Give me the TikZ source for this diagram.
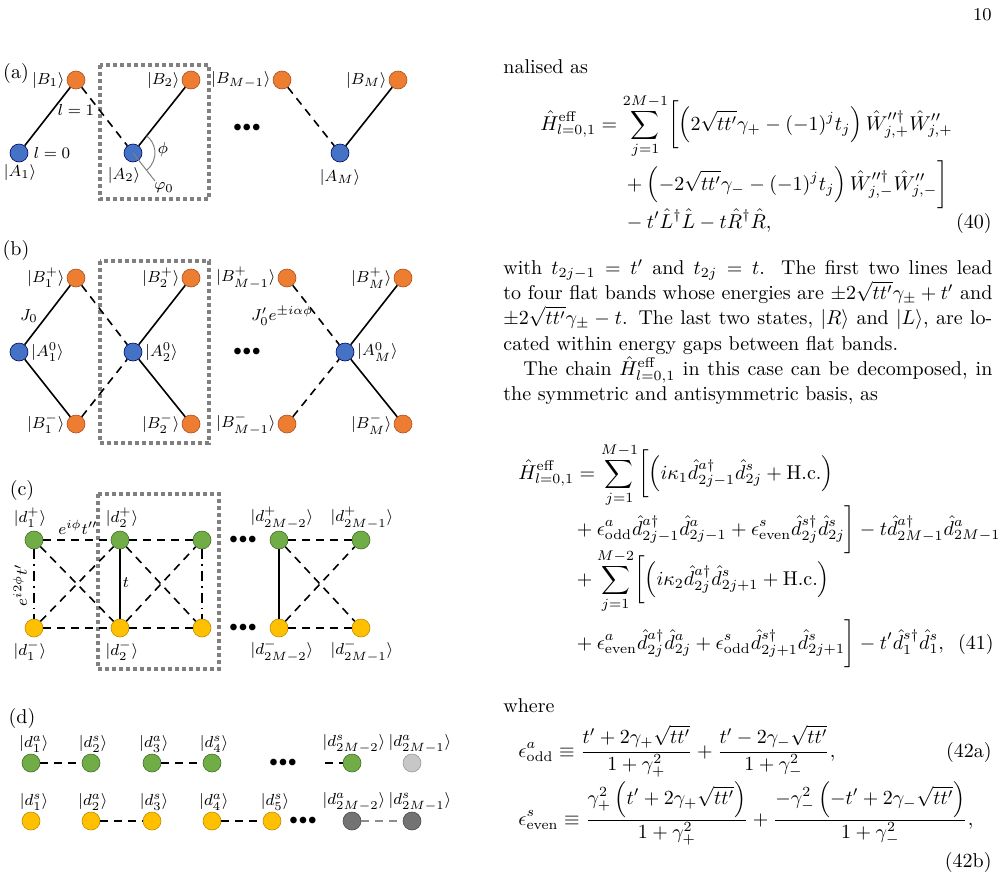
\documentclass[tikz,border=0pt]{standalone}
\usepackage{amsmath,amssymb}
\begin{document}
\begin{tikzpicture}[x=0.5pt,y=-0.5pt,
  dot/.style={circle,minimum size=9pt,inner sep=0pt,line width=0.3pt},
  bl/.style={dot,draw=blue!40!black,fill={rgb,255:red,68;green,114;blue,196}},
  og/.style={dot,fill={rgb,255:red,237;green,125;blue,49},draw={rgb,255:red,170;green,80;blue,30}},
  gr/.style={dot,fill={rgb,255:red,112;green,173;blue,71},draw={rgb,255:red,70;green,110;blue,40}},
  yl/.style={dot,fill={rgb,255:red,255;green,192;blue,0},draw={rgb,255:red,190;green,140;blue,0}},
  lg/.style={dot,fill=black!22,draw=black!40},
  dg/.style={dot,fill=black!55,draw=black!70},
  sol/.style={line width=0.8pt},
  dsh/.style={line width=0.8pt,dash pattern=on 4pt off 3pt},
  dd/.style={line width=0.8pt,dash pattern=on 5pt off 2.5pt on 0.8pt off 2.5pt},
  cellbox/.style={draw=black!50,line width=2pt,dash pattern=on 2pt off 1.5pt},
  lab/.style={font=\footnotesize,inner sep=1pt},
  pl/.style={font=\normalsize,inner sep=0pt},
  dots/.style={font=\footnotesize,inner sep=0pt},
  txt/.style={anchor=base west,inner sep=0pt}]
\useasboundingbox (0,0) rectangle (1004,878);
\node[txt,anchor=base east] (pg) at (992,20) {\small 10};
% ---------- (a)
\node[pl] (la) at (16,73) {(a)};
\draw[cellbox] (100,65) rectangle (209,199);
\node[bl] (A1) at (19,153) {}; \node[og] (B1) at (76,80) {};
\node[bl] (A2) at (133,153) {}; \node[og] (B2) at (191,80) {};
\node[og] (BM1) at (282,80) {}; \node[bl] (AM) at (340,153) {}; \node[og] (BM) at (398,80) {};
\draw[sol] (A1)--(B1); \draw[dsh] (B1)--(A2); \draw[sol] (A2)--(B2);
\draw[dsh] (BM1)--(AM); \draw[sol] (AM)--(BM);
\coordinate (g0) at (155,181);
\draw[black!50,line width=0.5pt] (A2.center)--(g0);
\draw[black!50,line width=0.5pt] (146.5,170.3) arc[start angle=-52,end angle=51.5,radius=11pt];
\node[dots] (da) at (247,128) {$\bullet\!\bullet\!\bullet$};
\node[lab,anchor=east] (tB1) at (67,80) {$|B_1\rangle$};
\node[lab] (tA1) at (20,172) {$|A_1\rangle$};
\node[lab] (tl1) at (76,110) {$l=1$};
\node[lab] (tl0) at (52,153) {$l=0$};
\node[lab,anchor=east] (tB2) at (182,80) {$|B_2\rangle$};
\node[lab] (tA2) at (124,175) {$|A_2\rangle$};
\node[lab] (tphi) at (163,149) {$\phi$};
\node[lab] (tphi0) at (164,188) {$\varphi_0$};
\node[lab,anchor=east] (tBM1) at (273,80) {$|B_{M-1}\rangle$};
\node[lab,anchor=east] (tBM) at (389,80) {$|B_M\rangle$};
\node[lab] (tAM) at (340,177) {$|A_M\rangle$};
% ---------- (b)
\node[pl] (lb) at (16,250) {(b)};
\draw[cellbox] (100,261) rectangle (209,443);
\node[bl] (bA1) at (19,352) {}; \node[og] (bB1p) at (76,278) {}; \node[og] (bB1m) at (76,424) {};
\node[bl] (bA2) at (133,352) {}; \node[og] (bB2p) at (191,278) {}; \node[og] (bB2m) at (191,424) {};
\node[og] (bBM1p) at (287,278) {}; \node[og] (bBM1m) at (287,424) {};
\node[bl] (bAM) at (345,352) {}; \node[og] (bBMp) at (403,278) {}; \node[og] (bBMm) at (403,424) {};
\draw[sol] (bA1)--(bB1p); \draw[sol] (bA1)--(bB1m);
\draw[dsh] (bB1p)--(bA2); \draw[dsh] (bB1m)--(bA2);
\draw[sol] (bA2)--(bB2p); \draw[sol] (bA2)--(bB2m);
\draw[dsh] (bBM1p)--(bAM); \draw[dsh] (bBM1m)--(bAM);
\draw[sol] (bAM)--(bBMp); \draw[sol] (bAM)--(bBMm);
\node[dots] (db) at (247,352) {$\bullet\!\bullet\!\bullet$};
\node[lab,anchor=east] at (67,278) {$|B_1^+\rangle$};
\node[lab,anchor=east] at (67,424) {$|B_1^-\rangle$};
\node[lab,anchor=west] at (29,352) {$|A_1^0\rangle$};
\node[lab,anchor=east] at (182,278) {$|B_2^+\rangle$};
\node[lab,anchor=east] at (182,424) {$|B_2^-\rangle$};
\node[lab,anchor=west] at (143,352) {$|A_2^0\rangle$};
\node[lab,anchor=east] at (278,278) {$|B_{M-1}^+\rangle$};
\node[lab,anchor=east] at (278,424) {$|B_{M-1}^-\rangle$};
\node[lab,anchor=west] at (355,352) {$|A_M^0\rangle$};
\node[lab,anchor=east] at (394,278) {$|B_M^+\rangle$};
\node[lab,anchor=east] at (394,424) {$|B_M^-\rangle$};
\node[lab] at (29,316) {$J_0$};
\node[lab] at (282,316) {$J_0'e^{\pm i\alpha\phi}$};
% ---------- (c)
\node[pl] (lc) at (22,490) {(c)};
\draw[cellbox] (98,494) rectangle (219,669);
\node[gr] (g1) at (34,540) {}; \node[gr] (g2) at (120,540) {}; \node[gr] (g3) at (202,540) {};
\node[gr] (g4) at (279,540) {}; \node[gr] (g5) at (361,540) {};
\node[yl] (y1) at (34,628) {}; \node[yl] (y2) at (120,628) {}; \node[yl] (y3) at (202,628) {};
\node[yl] (y4) at (279,628) {}; \node[yl] (y5) at (361,628) {};
\draw[dsh] (g1)--(g2); \draw[dsh] (g2)--(g3); \draw[dsh] (y1)--(y2); \draw[dsh] (y2)--(y3);
\draw[dd] (g1)--(y1); \draw[dd] (g3)--(y3); \draw[sol] (g2)--(y2);
\draw[dsh] (g1)--(y2); \draw[dsh] (y1)--(g2); \draw[dsh] (g2)--(y3); \draw[dsh] (y2)--(g3);
\draw[dsh] (g4)--(g5); \draw[dsh] (y4)--(y5); \draw[sol] (g4)--(y4);
\draw[dsh] (g4)--(y5); \draw[dsh] (y4)--(g5);
\node[dots] at (243,540) {$\bullet\!\bullet\!\bullet$};
\node[dots] at (243,628) {$\bullet\!\bullet\!\bullet$};
\node[lab] at (30,518) {$|d_1^+\rangle$};
\node[lab] at (122,518) {$|d_2^+\rangle$};
\node[lab] at (282,518) {$|d_{2M-2}^+\rangle$};
\node[lab] at (362,518) {$|d_{2M-1}^+\rangle$};
\node[lab] at (30,651) {$|d_1^-\rangle$};
\node[lab] at (122,651) {$|d_2^-\rangle$};
\node[lab] at (282,651) {$|d_{2M-2}^-\rangle$};
\node[lab] at (362,651) {$|d_{2M-1}^-\rangle$};
\node[lab] at (78,527) {$e^{i\phi}t''$};
\node[lab,rotate=90] at (20,585) {$e^{i2\phi}t'$};
\node[lab] at (126,583) {$t$};
% ---------- (d)
\node[pl] (ld) at (22,718) {(d)};
\node[gr] (t1) at (31,763) {}; \node[gr] (t2) at (91,763) {};
\node[gr] (t3) at (152,763) {}; \node[gr] (t4) at (212,763) {};
\node[gr] (t5) at (352,763) {}; \node[lg] (t6) at (412,763) {};
\coordinate (t5s) at (325,763);
\draw[dsh] (t1)--(t2); \draw[dsh] (t3)--(t4); \draw[dsh] (t5s)--(t5);
\node[dots] at (283,763) {$\bullet\!\bullet\!\bullet$};
\node[yl] (b1) at (31,821) {}; \node[yl] (b2) at (91,821) {}; \node[yl] (b3) at (152,821) {};
\node[yl] (b4) at (212,821) {}; \node[yl] (b5) at (272,821) {};
\node[dg] (b6) at (352,821) {}; \node[dg] (b7) at (412,821) {};
\draw[dsh] (b2)--(b3); \draw[dsh] (b4)--(b5); \draw[dsh,black!45] (b6)--(b7);
\node[dots] at (303,821) {$\bullet\!\bullet\!\bullet$};
\node[lab] at (34,744) {$|d_1^a\rangle$};
\node[lab] at (93,744) {$|d_2^s\rangle$};
\node[lab] at (154,744) {$|d_3^a\rangle$};
\node[lab] at (214,744) {$|d_4^s\rangle$};
\node[lab] at (354,744) {$|d_{2M-2}^s\rangle$};
\node[lab] at (420,744) {$|d_{2M-1}^a\rangle$};
\node[lab] at (34,802) {$|d_1^s\rangle$};
\node[lab] at (93,802) {$|d_2^a\rangle$};
\node[lab] at (154,802) {$|d_3^s\rangle$};
\node[lab] at (214,802) {$|d_4^a\rangle$};
\node[lab] at (275,802) {$|d_5^s\rangle$};
\node[lab] at (354,802) {$|d_{2M-2}^a\rangle$};
\node[lab] at (420,802) {$|d_{2M-1}^s\rangle$};
% ---------- text column
\node[txt] (t0) at (503,73) {nalised as};
\node[txt] (e40a) at (540,130) {$\displaystyle \hat H^{\rm eff}_{l=0,1} = \sum_{j=1}^{2M-1}\biggl[\Bigl(2\sqrt{tt'}\gamma_+-(-1)^jt_j\Bigr)\,\hat W''^{\dagger}_{j,+}\hat W''_{j,+}$};
\node[txt] (e40b) at (622,190) {$\displaystyle {}+\Bigl(-2\sqrt{tt'}\gamma_--(-1)^jt_j\Bigr)\,\hat W''^{\dagger}_{j,-}\hat W''_{j,-}\biggr]$};
\node[txt] (e40c) at (622,228) {$\displaystyle {}-t'\hat L^\dagger\hat L-t\hat R^\dagger\hat R,$};
\node[txt,anchor=base east] (n40) at (992,228) {(40)};
\node[txt,anchor=north west,text width=244.5pt,align=justify,font=\fontsize{10}{12.6}\selectfont] (p1) at (503,259)
{with $t_{2j-1}=t'$ and $t_{2j}=t$. The first two lines lead to four flat bands whose energies are $\pm2\sqrt{tt'}\gamma_\pm+t'$ and $\pm2\sqrt{tt'}\gamma_\pm-t$. The last two states, $|R\rangle$ and $|L\rangle$, are lo-\linebreak cated within energy gaps between flat bands.\par
\hspace*{10pt}The chain $\hat H^{\rm eff}_{l=0,1}$ in this case can be decomposed, in the symmetric and antisymmetric basis, as};
\node[txt] (e41a) at (518,479) {$\displaystyle \hat H^{\rm eff}_{l=0,1} = \sum_{j=1}^{M-1}\biggl[\Bigl(i\kappa_1\hat d^{a\dagger}_{2j-1}\hat d^s_{2j}+\mathrm{H.c.}\Bigr)$};
\node[txt] (e41b) at (572,535) {$\displaystyle {}+\epsilon^a_{\rm odd}\hat d^{a\dagger}_{2j-1}\hat d^a_{2j-1}+\epsilon^s_{\rm even}\hat d^{s\dagger}_{2j}\hat d^s_{2j}\biggr]-t\hat d^{a\dagger}_{2M-1}\hat d^a_{2M-1}$};
\node[txt] (e41c) at (572,585) {$\displaystyle {}+\sum_{j=1}^{M-2}\biggl[\Bigl(i\kappa_2\hat d^{a\dagger}_{2j}\hat d^s_{2j+1}+\mathrm{H.c.}\Bigr)$};
\node[txt] (e41d) at (572,649) {$\displaystyle {}+\epsilon^a_{\rm even}\hat d^{a\dagger}_{2j}\hat d^a_{2j}+\epsilon^s_{\rm odd}\hat d^{s\dagger}_{2j+1}\hat d^s_{2j+1}\biggr]-t'\hat d^{s\dagger}_1\hat d^s_1,$};
\node[txt,anchor=base east] (n41) at (994,649) {(41)};
\node[txt] (wh) at (503,712) {where};
\node[txt] (e42a) at (518,757) {$\displaystyle \epsilon^a_{\rm odd}\equiv\frac{t'+2\gamma_+\sqrt{tt'}}{1+\gamma_+^2}+\frac{t'-2\gamma_-\sqrt{tt'}}{1+\gamma_-^2},$};
\node[txt,anchor=base east] (n42a) at (992,757) {(42a)};
\node[txt] (e42b) at (518,825) {$\displaystyle \epsilon^s_{\rm even}\equiv\frac{\gamma_+^2\left(t'+2\gamma_+\sqrt{tt'}\right)}{1+\gamma_+^2}+\frac{-\gamma_-^2\left(-t'+2\gamma_-\sqrt{tt'}\right)}{1+\gamma_-^2},$};
\node[txt,anchor=base east] (n42b) at (992,867) {(42b)};
\end{tikzpicture}
\end{document}
